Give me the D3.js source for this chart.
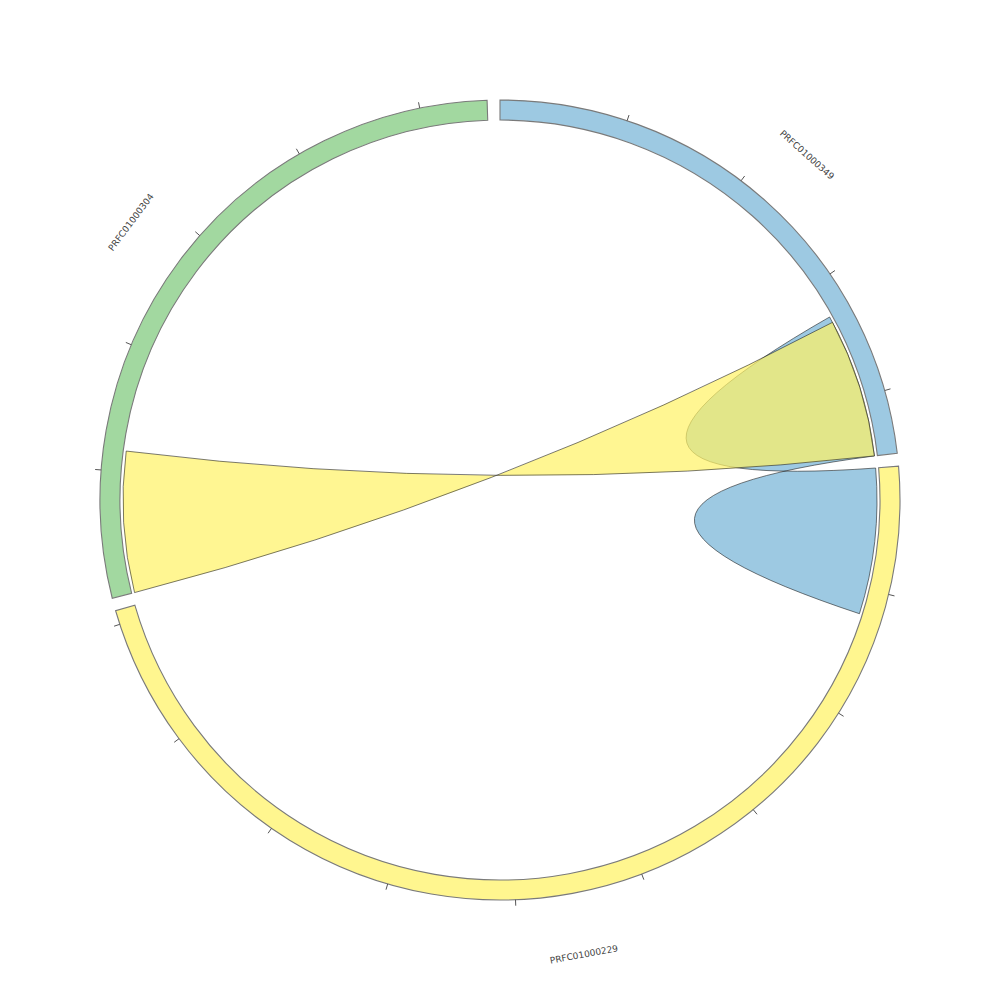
<!DOCTYPE html>
<html lang="en">
<head>
<meta charset="UTF-8">
<title>Circos links</title>
<script src="https://cdnjs.cloudflare.com/ajax/libs/d3/7.8.5/d3.min.js"></script>
<style>
    body { margin: 0; background: #fff; }
    .label { font: 9px "DejaVu Sans", sans-serif; fill: #444; }
</style>
</head>
<body>
<div id="chart"></div>
<script>

    var width = 1000,
        height = 1000;

    // contigs, in drawing order (clockwise from the top)
    var chromNames = ["PRFC01000349", "PRFC01000229", "PRFC01000304"];
    var chromLengths = [44950, 91100, 55250];
    var chromColors = ["#9dc9e2", "#fff68f", "#a2d8a0"];
    var tickStep = 10000;

    // links: side A and side B
    var linkChrA = ["PRFC01000349", "PRFC01000304"];
    var linkStartA = [32900, 0];
    var linkEndA = [44950, 11700];
    var linkChrB = ["PRFC01000229", "PRFC01000349"];
    var linkStartB = [0, 33400];
    var linkEndB = [12100, 44950];
    var linkInverted = [true, true];
    var linkColors = ["#9dc9e2", "rgb(255,242,100)"];
    var linkOpacity = [1, 0.7];

    var outerR = 400,
        innerR = 380,
        linkR = 377,
        labelR = 462,
        gapDeg = 1.85,
        purity = 0.06; // pulls the bezier control point toward the chord middle

    var svg = d3.select("#chart")
        .append("svg")
        .attr("width", width)
        .attr("height", height)
        .append("g")
        .attr("transform", "translate(500,500)");

    var total = d3.sum(chromLengths);
    var degPerBp = (360 - gapDeg * chromNames.length) / total;

    // one angle scale per contig (radians, 0 at top, clockwise)
    var scales = {};
    var offset = 0;
    chromNames.forEach(function (name, i) {
        var a0 = offset, a1 = offset + chromLengths[i] * degPerBp;
        scales[name] = d3.scaleLinear()
            .domain([0, chromLengths[i]])
            .range([a0 * Math.PI / 180, a1 * Math.PI / 180]);
        offset = a1 + gapDeg;
    });

    function pt(a, r) {
        return [r * Math.sin(a), -r * Math.cos(a)];
    }

    function curveTo(p, from, to) {
        var cx = purity * (from[0] + to[0]) / 2,
            cy = purity * (from[1] + to[1]) / 2;
        p.quadraticCurveTo(cx, cy, to[0], to[1]);
    }

    // links
    linkChrA.forEach(function (c, i) {
        var a0 = scales[c](linkStartA[i]), a1 = scales[c](linkEndA[i]);
        var b0 = scales[linkChrB[i]](linkStartB[i]), b1 = scales[linkChrB[i]](linkEndB[i]);
        var h = Math.PI / 2;
        var p = d3.path();
        var s = pt(a0, linkR);
        p.moveTo(s[0], s[1]);
        p.arc(0, 0, linkR, a0 - h, a1 - h, a1 < a0);
        var e = pt(a1, linkR), q, qe;
        if (linkInverted[i]) {
            q = pt(b1, linkR); qe = pt(b0, linkR);
            curveTo(p, e, q);
            p.arc(0, 0, linkR, b1 - h, b0 - h, b0 < b1);
        } else {
            q = pt(b0, linkR); qe = pt(b1, linkR);
            curveTo(p, e, q);
            p.arc(0, 0, linkR, b0 - h, b1 - h, b1 < b0);
        }
        curveTo(p, qe, s);
        p.closePath();

        svg.append("path")
            .attr("d", p.toString())
            .attr("fill", linkColors[i])
            .attr("fill-opacity", linkOpacity[i])
            .attr("stroke", "#222")
            .attr("stroke-width", 0.6);
    });

    // contig ring
    var arc = d3.arc().innerRadius(innerR).outerRadius(outerR);

    chromNames.forEach(function (name, i) {
        var r = scales[name].range();
        svg.append("path")
            .attr("d", arc({startAngle: r[0], endAngle: r[1]}))
            .attr("fill", chromColors[i])
            .attr("stroke", "#7a7a7a")
            .attr("stroke-width", 1.1);

        // ticks, skipping position 0
        d3.range(tickStep, chromLengths[i], tickStep).forEach(function (v) {
            var a = scales[name](v);
            var p0 = pt(a, outerR), p1 = pt(a, outerR + 6);
            svg.append("line")
                .attr("x1", p0[0]).attr("y1", p0[1])
                .attr("x2", p1[0]).attr("y2", p1[1])
                .attr("stroke", "#555")
                .attr("stroke-width", 1);
        });

        // label
        var mid = (r[0] + r[1]) / 2;
        var deg = mid * 180 / Math.PI;
        var rot = (deg > 90 && deg < 270) ? deg - 180 : deg;
        var lp = pt(mid, labelR);
        svg.append("text")
            .attr("class", "label")
            .attr("transform", "translate(" + lp[0] + "," + lp[1] + ") rotate(" + rot + ")")
            .attr("text-anchor", "middle")
            .attr("dy", "0.35em")
            .text(name);
    });

</script>
</body>
</html>
